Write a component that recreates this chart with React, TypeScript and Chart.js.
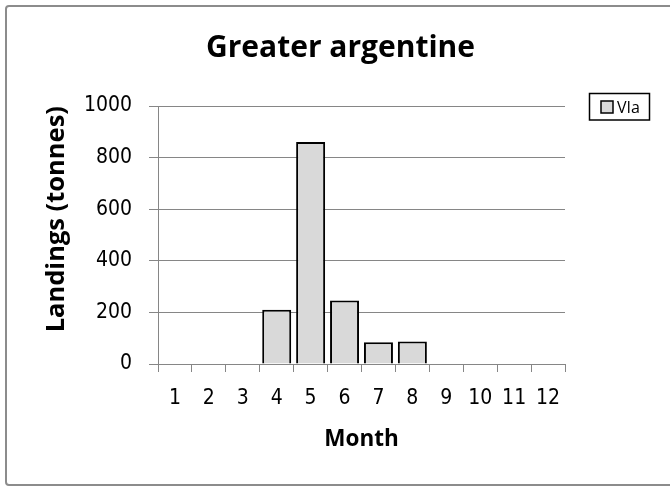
import React, { useEffect, useRef } from "react";
import { Chart, registerables } from "chart.js";

Chart.register(...registerables);

const months: string[] = ["1", "2", "3", "4", "5", "6", "7", "8", "9", "10", "11", "12"];
const landingsVIa: (number | null)[] = [0, 0, 0, 210, 860, 246, 84, 87, 0, 0, 0, 0];
const seriesLabel = "VIa";
const yTicks = { min: 0, max: 1000, step: 200 };

const TITLE_FONT = "'Open Sans', Lato, sans-serif";
const TICK_FONT = "'Liberation Sans Narrow', 'DejaVu Sans Condensed', Lato, sans-serif";
const GRID = "#868686";

const frameAndLegend = {
  id: "frameAndLegend",
  beforeDraw(chart: any) {
    const ctx = chart.ctx;
    ctx.save();
    ctx.fillStyle = "#ffffff";
    ctx.fillRect(0, 0, chart.width, chart.height);
    ctx.strokeStyle = "#8c8c8c";
    ctx.lineWidth = 2;
    ctx.beginPath();
    ctx.roundRect(6, 6, 700, 479, 3);
    ctx.stroke();
    ctx.restore();
  },
  afterDraw(chart: any) {
    const ctx = chart.ctx;
    const ds = chart.data.datasets[0];
    ctx.save();
    ctx.strokeStyle = "#000000";
    ctx.lineWidth = 1.5;
    ctx.strokeRect(589.5, 93.5, 60, 26.5);
    ctx.fillStyle = ds.backgroundColor;
    ctx.fillRect(601, 101, 12, 12);
    ctx.strokeRect(601, 101, 12, 12);
    ctx.fillStyle = "#000000";
    ctx.font = `16px ${TITLE_FONT}`;
    ctx.textBaseline = "middle";
    ctx.textAlign = "left";
    ctx.fillText(ds.label, 617, 108);
    ctx.restore();
  },
};

export default function App() {
  const ref = useRef<HTMLCanvasElement | null>(null);

  useEffect(() => {
    if (!ref.current) return;
    const chart = new Chart(ref.current, {
      type: "bar",
      data: {
        labels: months,
        datasets: [
          {
            label: seriesLabel,
            data: landingsVIa,
            backgroundColor: "#d9d9d9",
            borderColor: "#000000",
            borderWidth: 2,
            barPercentage: 0.855,
            categoryPercentage: 1,
            yAxisID: "y",
          },
        ],
      },
      options: {
        responsive: false,
        animation: false,
        layout: { padding: { left: 11, right: 0, top: 0, bottom: 0 } },
        plugins: {
          legend: { display: false },
          tooltip: { enabled: false },
          title: {
            display: true,
            text: "Greater argentine",
            color: "#000000",
            font: { family: TITLE_FONT, size: 30, weight: "bold" },
            padding: { top: 30.7, bottom: 39.3 },
          },
        },
        scales: {
          x: {
            offset: true,
            grid: {
              offset: true,
              drawOnChartArea: false,
              drawTicks: true,
              tickLength: 8,
              color: GRID,
            },
            border: { display: true, color: GRID, width: 1 },
            ticks: {
              color: "#000000",
              font: { family: TICK_FONT, size: 21 },
              padding: 14.4,
              maxRotation: 0,
            },
            title: {
              display: true,
              text: "Month",
              color: "#000000",
              font: { family: TITLE_FONT, size: 22.5, weight: "bold" },
              padding: { top: 0, bottom: 33.9 },
            },
            afterFit(scale: any) {
              scale.height = 123;
            },
          },
          y: {
            position: "left",
            min: yTicks.min,
            max: yTicks.max,
            grid: { color: GRID, tickLength: 9, lineWidth: 1 },
            border: { display: true, color: GRID, width: 1 },
            ticks: {
              stepSize: yTicks.step,
              color: "#000000",
              font: { family: TICK_FONT, size: 21 },
              padding: 17,
              callback: (v: any) => String(v),
            },
            title: {
              display: true,
              text: "Landings (tonnes)",
              align: "end",
              color: "#000000",
              font: { family: TITLE_FONT, size: 25.5, weight: "bold" },
              padding: { top: 30.2, bottom: 0 },
            },
            afterFit(scale: any) {
              scale.width = 147;
            },
          },
          yR: {
            position: "right",
            display: true,
            grid: { display: false, drawTicks: false },
            border: { display: false },
            ticks: { display: false },
            afterFit(scale: any) {
              scale.width = 105;
            },
          },
        },
      },
      plugins: [frameAndLegend],
    });
    return () => chart.destroy();
  }, []);

  return (
    <div style={{ position: "absolute", left: 0, top: 0, width: 670, height: 487 }}>
      <canvas ref={ref} width={670} height={487} style={{ display: "block" }} />
    </div>
  );
}
